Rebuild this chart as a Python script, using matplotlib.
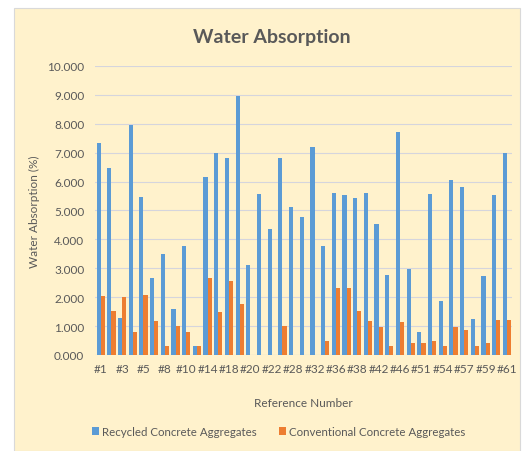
import matplotlib.pyplot as plt
from matplotlib.patches import Rectangle
import numpy as np

plt.rcParams['font.family'] = ['Lato', 'DejaVu Sans']

# reference numbers (only every other one is labelled on the axis)
refs = ['#1', '#2', '#3', '#4', '#5', '#7', '#8', '#9', '#10', '#12',
        '#14', '#16', '#18', '#19', '#20', '#21', '#22', '#25', '#28', '#30',
        '#32', '#34', '#36', '#37', '#38', '#40', '#42', '#44', '#46', '#48',
        '#51', '#52', '#54', '#55', '#57', '#58', '#59', '#60', '#61']
recycled = [7.32, 6.46, 1.28, 7.96, 5.48, 2.67, 3.49, 1.59, 3.78, 0.30,
            6.15, 6.98, 6.80, 8.97, 3.12, 5.57, 4.36, 6.80, 5.12, 4.78,
            7.19, 3.78, 5.60, 5.53, 5.42, 5.60, 4.53, 2.77, 7.73, 2.98,
            0.78, 5.57, 1.86, 6.07, 5.83, 1.25, 2.74, 5.53, 6.98]
conventional = [2.03, 1.53, 2.00, 0.78, 2.09, 1.19, 0.30, 1.00, 0.78, 0.30,
                2.66, 1.48, 2.57, 1.76, 0.0, 0.0, 0.0, 1.01, 0.0, 0.0,
                0.0, 0.50, 2.31, 2.33, 1.51, 1.17, 0.98, 0.30, 1.13, 0.40,
                0.40, 0.50, 0.30, 0.98, 0.88, 0.32, 0.40, 1.21, 1.20]

blue = '#5B9BD5'
orange = '#ED7D31'
txt = '#595959'
bg = '#FFF2CC'

fig = plt.figure(figsize=(5.27, 4.52), dpi=100)
fig.patch.set_facecolor('white')
fig.patches.append(Rectangle((14/527, 0), 506/527, 1 - 9/452, transform=fig.transFigure,
                             facecolor=bg, edgecolor='#d9d9d9', linewidth=0.8, zorder=-10))

ax = fig.add_axes([0.181, 0.2124, 0.791, 0.6394])
ax.set_facecolor('none')

x = np.arange(len(refs))
w = 0.39
ax.bar(x - w/2, recycled, w, color=blue, label='Recycled Concrete Aggregates', zorder=3)
ax.bar(x + w/2, conventional, w, color=orange, label='Conventional Concrete Aggregates', zorder=3)

ax.set_xlim(-0.5, len(refs) - 0.5)
ax.set_ylim(0, 10)
ax.set_yticks(np.arange(0, 11, 1))
ax.set_yticklabels([f'{v:.3f}' for v in np.arange(0, 11, 1)])
ax.set_xticks(x[::2])
ax.set_xticklabels(refs[::2])
ax.tick_params(axis='both', length=0, labelsize=8.5, colors=txt)
ax.tick_params(axis='y', pad=8)
ax.tick_params(axis='x', pad=6)
ax.grid(axis='y', color='#d5d5dd', linewidth=0.8, zorder=0)
for s in ax.spines.values():
    s.set_visible(False)
ax.axhline(0, color='#d5d5dd', linewidth=0.8, zorder=1)

ax.set_ylabel('Water Absorption (%)', fontsize=8.5, color=txt, labelpad=5)
ax.set_xlabel('Reference Number', fontsize=8.5, color=txt, labelpad=16)
fig.text(0.516, 0.918, 'Water Absorption', ha='center', va='center',
         fontsize=14, fontweight='bold', color=txt)

ax.legend(loc='center', bbox_to_anchor=(0.44, -0.265), ncol=2, frameon=False,
          fontsize=8.3, labelcolor=txt, handlelength=0.6, handleheight=0.6,
          handletextpad=0.3, columnspacing=1.9)

fig.savefig('out.png', dpi=100, facecolor=fig.get_facecolor())
